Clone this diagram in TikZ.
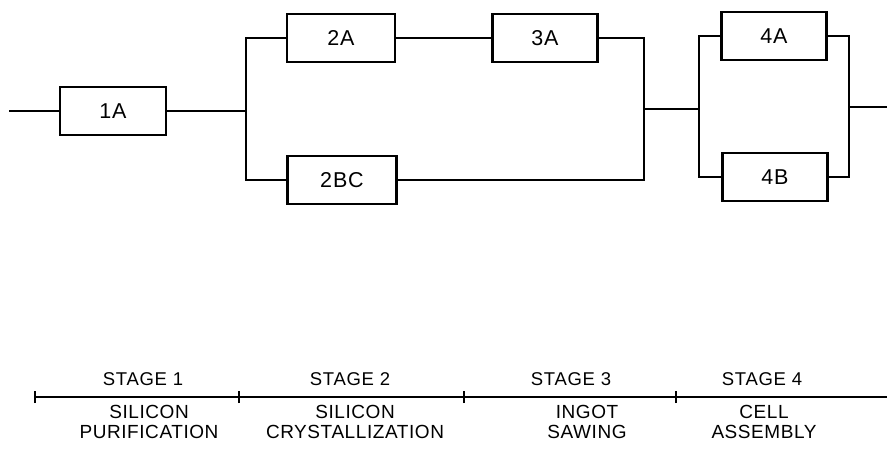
\documentclass[tikz,border=0pt]{standalone}
\usepackage{fontspec}
\setmainfont{Liberation Sans}
\newfontfamily\spacedsans[LetterSpace=4]{Liberation Sans}
\newfontfamily\labsans[LetterSpace=3]{Liberation Sans}
\begin{document}
\begin{tikzpicture}[x=1pt,y=-1pt,
  blk/.style={draw, line width=2.2pt, minimum width=106pt, minimum height=48pt, inner sep=0pt, font=\spacedsans\fontsize{21.5}{24}\selectfont},
  wire/.style={line width=2.8pt},
  axis/.style={line width=2pt},
  stg/.style={font=\spacedsans\fontsize{18.5}{20}\selectfont, inner sep=0pt, anchor=base},
  lab/.style={font=\labsans\fontsize{19}{20.5}\selectfont, align=center, inner sep=0pt}]
\useasboundingbox (0,0) rectangle (887,455);
% boxes
\node[blk] (b1A) at (113,111) {1A};
\node[blk, minimum width=108pt] (b2A) at (341,38) {2A};
\node[blk, minimum width=105pt] (b3A) at (545,38) {3A};
\node[blk, minimum width=109pt] (b2BC) at (342,180) {2BC};
\node[blk, minimum width=105pt] (b4A) at (774,36) {4A};
\node[blk, minimum width=105pt] (b4B) at (775,177) {4B};
% junction coordinates
\coordinate (in) at (9,111);
\coordinate (j1) at (246,111);
\coordinate (j1t) at (246,38);
\coordinate (j1b) at (246,180);
\coordinate (j2t) at (644,38);
\coordinate (j2b) at (644,180);
\coordinate (j2) at (644,109);
\coordinate (j3) at (699,109);
\coordinate (j3t) at (699,36);
\coordinate (j3b) at (699,177);
\coordinate (j4t) at (849,36);
\coordinate (j4b) at (849,177);
\coordinate (j4) at (849,107);
\coordinate (out) at (887,107);
% connectors
\draw[wire] (in) -- (b1A.west);
\draw[wire] (b1A.east) -- (j1);
\draw[wire] (b2A.west) -- (j1t) -- (j1b) -- (b2BC.west);
\draw[wire] (b2A.east) -- (b3A.west);
\draw[wire] (b3A.east) -- (j2t) -- (j2b) -- (b2BC.east);
\draw[wire] (j2) -- (j3);
\draw[wire] (b4A.west) -- (j3t) -- (j3b) -- (b4B.west);
\draw[wire] (b4A.east) -- (j4t) -- (j4b) -- (b4B.east);
\draw[wire] (j4) -- (out);
% timeline
\coordinate (t0) at (35,397);
\coordinate (t1) at (239,397);
\coordinate (t2) at (464,397);
\coordinate (t3) at (676,397);
\coordinate (t4) at (887,397);
\draw[axis] (t0) -- (t4);
\foreach \t in {t0,t1,t2,t3}{\draw[axis] ([yshift=-6pt]\t) -- ([yshift=6pt]\t);}
% stage labels
\node[stg] (s1) at (143,385) {STAGE 1};
\node[stg] (s2) at (350,385) {STAGE 2};
\node[stg] (s3) at (571,385) {STAGE 3};
\node[stg] (s4) at (762,385) {STAGE 4};
\node[lab] (d1) at (149,422) {SILICON\\PURIFICATION};
\node[lab] (d2) at (355,422) {SILICON\\CRYSTALLIZATION};
\node[lab] (d3) at (587,422) {INGOT\\SAWING};
\node[lab] (d4) at (764,422) {CELL\\ASSEMBLY};
\end{tikzpicture}
\end{document}
